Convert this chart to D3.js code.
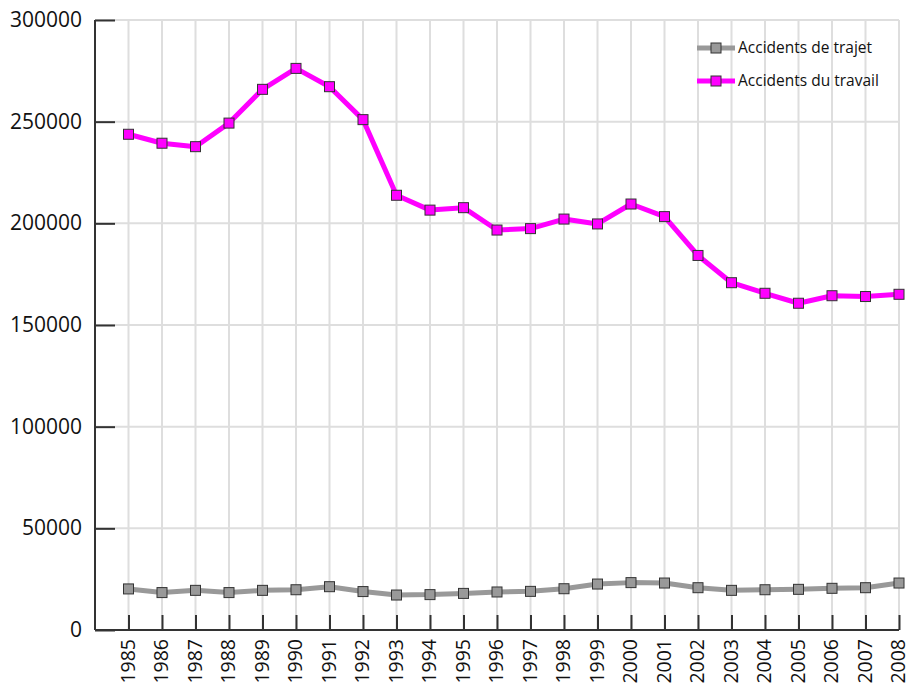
<!DOCTYPE html>
<html>
<head>
<meta charset="utf-8">
<script src="https://cdn.jsdelivr.net/npm/d3@7"></script>
<style>
  body { margin: 0; background: #fff; }
  text { font-family: "Open Sans", sans-serif; fill: #111; }
</style>
</head>
<body>
<div id="chart"></div>
<script>
const years = ['1985', '1986', '1987', '1988', '1989', '1990', '1991', '1992', '1993', '1994', '1995', '1996',
  '1997', '1998', '1999', '2000', '2001', '2002', '2003', '2004', '2005', '2006', '2007', '2008'];
const trajet = [20200, 18400, 19500, 18400, 19500, 19800, 21300, 18900, 17200, 17400, 18000, 18700,
  19000, 20300, 22600, 23300, 23100, 20800, 19500, 19800, 20000, 20500, 20800, 23100];
const travail = [243800, 239400, 237700, 249300, 265900, 276200, 267200, 251000, 213800, 206500, 207700, 196700,
  197400, 202100, 199700, 209500, 203300, 184200, 170800, 165600, 160700, 164400, 164000, 165100];
const yTicks = [0, 50000, 100000, 150000, 200000, 250000, 300000];
const seriesNames = ['Accidents de trajet', 'Accidents du travail'];

const width = 909;
const height = 691;
const plotLeft = 95;
const plotRight = 899;
const plotTop = 20;
const plotBottom = 630;

const svg = d3.select('#chart')
  .append('svg')
  .attr('width', width)
  .attr('height', height);

const x = d3.scalePoint()
  .domain(years)
  .range([plotLeft + (plotRight - plotLeft) / 24, plotRight]);

const y = d3.scaleLinear()
  .domain([0, 300000])
  .range([plotBottom, plotTop]);

// grid
svg.append('g')
  .selectAll('line')
  .data(years)
  .enter()
  .append('line')
  .attr('x1', (d) => x(d))
  .attr('x2', (d) => x(d))
  .attr('y1', plotTop)
  .attr('y2', plotBottom)
  .attr('stroke', '#dedede')
  .attr('stroke-width', 2);

svg.append('g')
  .selectAll('line')
  .data(yTicks.slice(1))
  .enter()
  .append('line')
  .attr('x1', plotLeft)
  .attr('x2', plotRight)
  .attr('y1', (d) => y(d))
  .attr('y2', (d) => y(d))
  .attr('stroke', '#dedede')
  .attr('stroke-width', 2);

// y axis, ticks pointing inward
const yAxis = svg.append('g')
  .attr('transform', `translate(${plotLeft},0)`)
  .call(d3.axisRight(y).tickValues(yTicks).tickSize(20).tickFormat(''));
yAxis.select('.domain').remove();
yAxis.selectAll('line').attr('stroke', '#333').attr('stroke-width', 2);

svg.append('g')
  .selectAll('text')
  .data(yTicks)
  .enter()
  .append('text')
  .attr('x', plotLeft - 13)
  .attr('y', (d) => y(d) + 7)
  .attr('text-anchor', 'end')
  .style('font-size', '21px')
  .text((d) => d);

// x axis, ticks pointing up
const xAxis = svg.append('g')
  .attr('transform', `translate(0,${plotBottom})`)
  .call(d3.axisTop(x).tickSize(15).tickFormat(''));
xAxis.select('.domain').remove();
xAxis.selectAll('line').attr('stroke', '#333').attr('stroke-width', 2);

svg.append('g')
  .selectAll('text')
  .data(years)
  .enter()
  .append('text')
  .attr('transform', (d) => `translate(${x(d) + 6},${plotBottom + 9}) rotate(-90)`)
  .attr('text-anchor', 'end')
  .style('font-size', '19.5px')
  .text((d) => d);

svg.append('line')
  .attr('x1', plotLeft).attr('x2', plotLeft)
  .attr('y1', plotTop).attr('y2', plotBottom)
  .attr('stroke', '#333').attr('stroke-width', 2);
svg.append('line')
  .attr('x1', plotLeft).attr('x2', plotRight)
  .attr('y1', plotBottom).attr('y2', plotBottom)
  .attr('stroke', '#333').attr('stroke-width', 2);

// series
const series = [
  { name: seriesNames[0], values: trajet, line: '#999999', fill: '#999999' },
  { name: seriesNames[1], values: travail, line: '#ff00ff', fill: '#ff00ff' },
];

const line = d3.line()
  .x((d, i) => x(years[i]))
  .y((d) => y(d));

const ms = 10;
series.forEach((s) => {
  svg.append('path')
    .attr('d', line(s.values))
    .attr('fill', 'none')
    .attr('stroke', s.line)
    .attr('stroke-width', 5)
    .attr('stroke-linejoin', 'round');

  svg.append('g')
    .selectAll('rect')
    .data(s.values)
    .enter()
    .append('rect')
    .attr('x', (d, i) => x(years[i]) - ms / 2)
    .attr('y', (d) => y(d) - ms / 2)
    .attr('width', ms)
    .attr('height', ms)
    .attr('fill', s.fill)
    .attr('stroke', '#333')
    .attr('stroke-width', 1);
});

// legend
const legend = svg.append('g')
  .attr('transform', 'translate(697,48)');

series.forEach((s, i) => {
  const g = legend.append('g')
    .attr('transform', `translate(0,${i * 33})`);
  g.append('line')
    .attr('x1', 0).attr('x2', 38)
    .attr('y1', 0).attr('y2', 0)
    .attr('stroke', s.line)
    .attr('stroke-width', 5);
  g.append('rect')
    .attr('x', 19 - ms / 2)
    .attr('y', -ms / 2)
    .attr('width', ms)
    .attr('height', ms)
    .attr('fill', s.fill)
    .attr('stroke', '#333')
    .attr('stroke-width', 1);
  g.append('text')
    .attr('x', 41)
    .attr('y', 5)
    .style('font-size', '15.5px')
    .text(s.name);
});
</script>
</body>
</html>
